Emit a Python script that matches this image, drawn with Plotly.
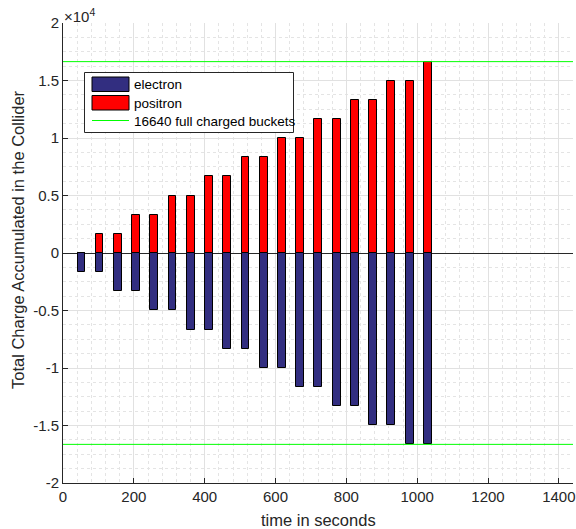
import plotly.graph_objects as go

# ---- data ----
time_s = [52, 103, 155, 206, 258, 309, 361, 412, 464, 515,
          567, 618, 670, 721, 773, 824, 876, 927, 979, 1030]
electron = [-1664, -1664, -3328, -3328, -4992, -4992, -6656, -6656, -8320, -8320,
            -9984, -9984, -11648, -11648, -13312, -13312, -14976, -14976, -16640, -16640]
positron = [0, 1664, 1664, 3328, 3328, 4992, 4992, 6656, 6656, 8320,
            8320, 9984, 9984, 11648, 11648, 13312, 13312, 14976, 14976, 16640]
full_charge = 16640
x_range = [0, 1440]
y_tickvals = [-20000, -15000, -10000, -5000, 0, 5000, 10000, 15000, 20000]
y_ticktext = ["-2", "-1.5", "-1", "-0.5", "0", "0.5", "1", "1.5", "2"]
x_tickvals = [0, 200, 400, 600, 800, 1000, 1200, 1400]

# ---- layout geometry (pixels) ----
W, H = 576, 529
L, R, T, B = 63, 3, 23, 46
PW, PH = W - L - R, H - T - B

def fx(px):
    return (px - L) / PW

def fy(py):
    return (H - B - py) / PH

AX = "rgb(38,38,38)"
BLUE = "rgb(50,46,128)"
RED = "rgb(255,0,0)"
GREEN = "rgb(0,255,0)"
FONT = "Liberation Sans, Arial, sans-serif"

fig = go.Figure()
fig.add_trace(go.Bar(x=time_s, y=electron, width=22, name="electron",
                     marker=dict(color=BLUE, line=dict(color="black", width=1)),
                     showlegend=False))
fig.add_trace(go.Bar(x=time_s, y=positron, width=22, name="positron",
                     marker=dict(color=RED, line=dict(color="black", width=1)),
                     showlegend=False))
for v in (full_charge, -full_charge):
    fig.add_trace(go.Scatter(x=x_range, y=[v, v], mode="lines",
                             line=dict(color=GREEN, width=1),
                             name=f"{full_charge} full charged buckets",
                             showlegend=False, hoverinfo="skip"))

# ---- custom MATLAB-style legend ----
shapes = [
    dict(type="rect", xref="paper", yref="paper",
         x0=fx(84.5), x1=fx(293.5), y0=fy(132.5), y1=fy(72.5),
         fillcolor="white", line=dict(color=AX, width=1), layer="above"),
    dict(type="rect", xref="paper", yref="paper",
         x0=fx(92), x1=fx(129), y0=fy(91.5), y1=fy(77),
         fillcolor=BLUE, line=dict(color="black", width=1), layer="above"),
    dict(type="rect", xref="paper", yref="paper",
         x0=fx(92), x1=fx(129), y0=fy(110), y1=fy(95.5),
         fillcolor=RED, line=dict(color="black", width=1), layer="above"),
    dict(type="line", xref="paper", yref="paper",
         x0=fx(92), x1=fx(129), y0=fy(120.5), y1=fy(120.5),
         line=dict(color=GREEN, width=1), layer="above"),
]
legend_items = [("electron", 84), ("positron", 103), (f"{full_charge} full charged buckets", 121)]
annotations = []
for txt, py in legend_items:
    annotations.append(dict(text=txt, xref="paper", yref="paper", x=fx(132), y=fy(py),
                            xanchor="left", yanchor="middle", showarrow=False,
                            font=dict(family=FONT, size=13.5, color="black")))
annotations += [
    dict(text="×10<sup>4</sup>", xref="paper", yref="paper", x=fx(62), y=fy(15),
         xanchor="left", yanchor="middle", showarrow=False,
         font=dict(family=FONT, size=15, color=AX)),
    dict(text="time in seconds", xref="paper", yref="paper", x=0.5, y=fy(520),
         xanchor="center", yanchor="middle", showarrow=False,
         font=dict(family=FONT, size=16.5, color=AX)),
    dict(text="Total Charge Accumulated in the Collider", xref="paper", yref="paper",
         x=fx(18), y=fy(240), xanchor="center", yanchor="middle", textangle=-90,
         showarrow=False, font=dict(family=FONT, size=16.5, color=AX)),
]

fig.update_layout(
    width=W, height=H,
    margin=dict(l=L, r=R, t=T, b=B, pad=0),
    paper_bgcolor="white", plot_bgcolor="white",
    barmode="overlay", bargap=0,
    font=dict(family=FONT, size=15, color=AX),
    shapes=shapes, annotations=annotations,
    showlegend=False,
)
fig.update_xaxes(range=x_range, tickvals=x_tickvals, ticks="inside", ticklen=5,
                 tickcolor=AX, showline=True, linecolor=AX, linewidth=1, mirror=False,
                 showgrid=True, gridcolor="rgb(225,225,225)", gridwidth=1, zeroline=False,
                 minor=dict(dtick=40, showgrid=True, gridcolor="rgb(228,228,228)",
                            griddash="dot", ticks=""),
                 tickfont=dict(size=15, color=AX), automargin=False)
fig.update_yaxes(range=[-20000, 20000], tickvals=y_tickvals, ticktext=y_ticktext,
                 ticks="inside", ticklen=5, tickcolor=AX, showline=True, linecolor=AX,
                 linewidth=1, mirror=False, showgrid=True, gridcolor="rgb(225,225,225)",
                 gridwidth=1, zeroline=True, zerolinecolor="rgb(40,40,40)", zerolinewidth=1,
                 minor=dict(dtick=1250, showgrid=True, gridcolor="rgb(228,228,228)",
                            griddash="dot", ticks=""),
                 tickfont=dict(size=15, color=AX), automargin=False)

fig.write_html("out.html", config={"displayModeBar": False},
               post_script="document.body.style.margin='0';document.body.style.overflow='hidden';")
